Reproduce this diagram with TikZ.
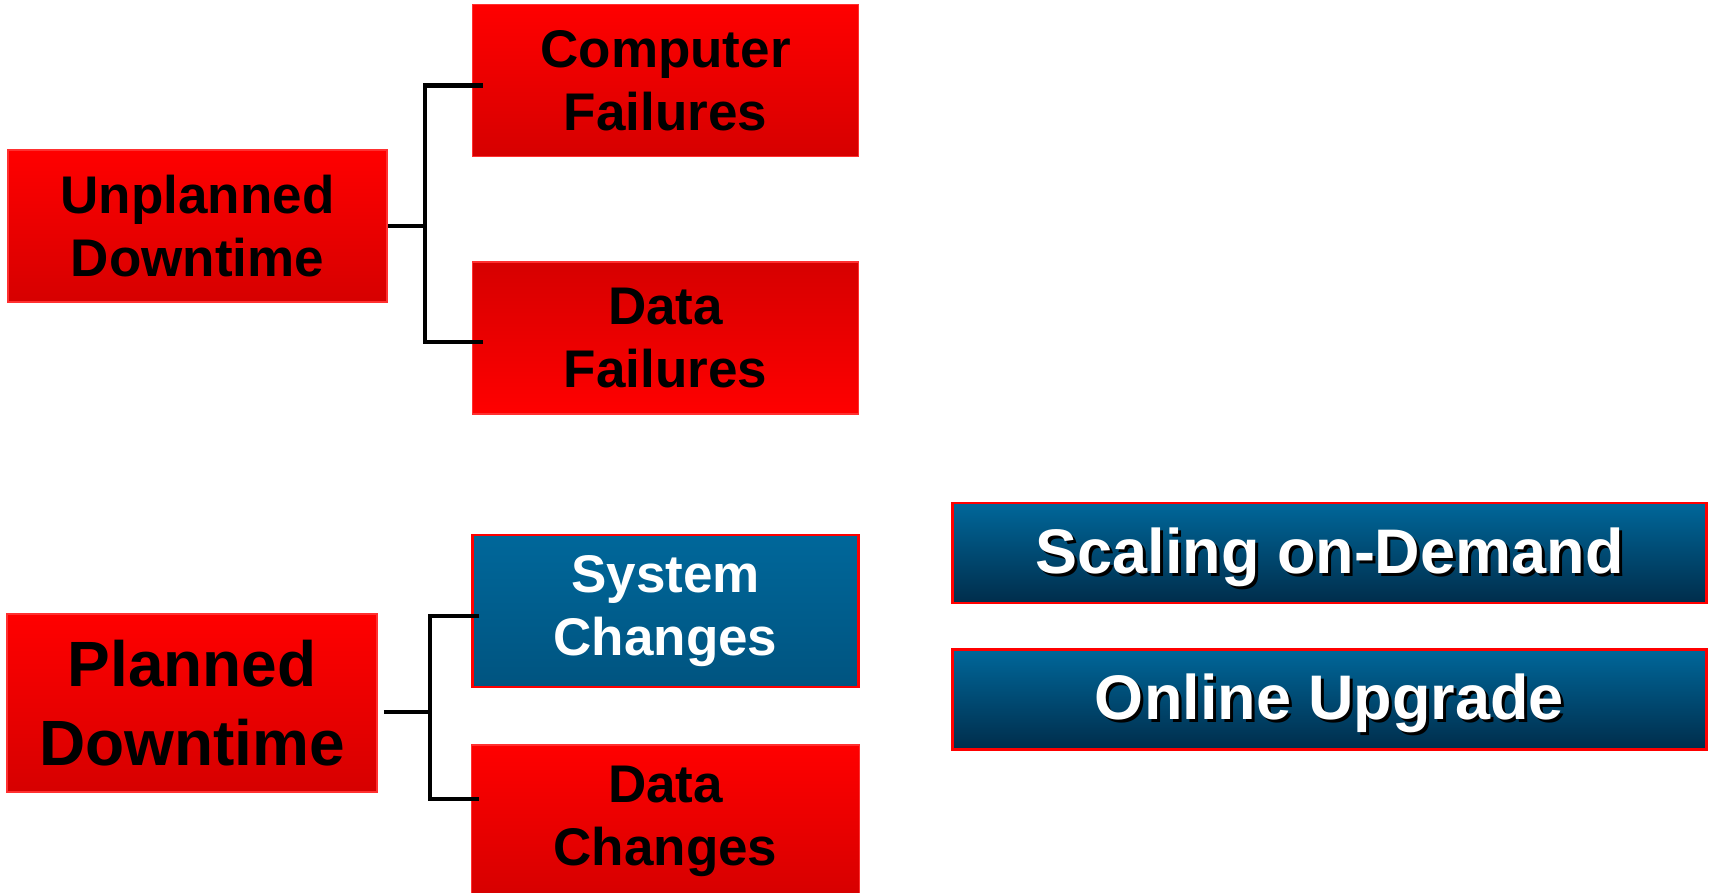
\documentclass[tikz,border=0pt]{standalone}
\usepackage{fontspec}
\setmainfont{Liberation Sans}
\usetikzlibrary{positioning}
\definecolor{redtop}{RGB}{255,0,0}
\definecolor{redbot}{RGB}{214,0,0}
\definecolor{redrim}{RGB}{255,48,48}
\definecolor{bluetop}{RGB}{0,103,154}
\definecolor{bluemid}{RGB}{0,84,128}
\definecolor{bluebot}{RGB}{0,45,75}
\newcommand\shadowed[1]{\rlap{\kern3pt\raisebox{-3pt}{\color{black}#1}}#1}

\begin{document}
\begin{tikzpicture}[x=1pt, y=1pt,
    rbox/.style = {draw=redrim, line width=1.5pt, top color=redtop, bottom color=redbot, minimum width=386pt, minimum height=152pt, inner sep=0pt, align=center, font=\bfseries\fontsize{53}{63}\selectfont},
    bbox/.style = {rbox, draw=red, line width=2.5pt, top color=bluetop, bottom color=bluemid, text=white},
    wide/.style = {bbox, bottom color=bluebot, minimum width=754pt, minimum height=100pt, text height=56pt, text depth=16pt, font=\bfseries\fontsize{63}{75}\selectfont},
    link/.style = {draw, line width=4.2pt}
]
\useasboundingbox (0,0) rectangle (1710,-892);
\node (ud) [rbox, minimum width=379pt] at (197.5,-226) {Unplanned\\Downtime};
\node (cf) [rbox, above right=-8pt and 84pt of ud] {Computer\\Failures};
\node (df) [rbox, top color=redbot, bottom color=redtop, below=104pt of cf] {Data\\Failures};
\node (sc) [bbox, below=119pt of df] {System\\Changes};
\node (dc) [rbox, minimum width=388pt, below=56pt of sc] {Data\\Changes};
\node (pd) [rbox, minimum width=370pt, minimum height=178pt, font=\bfseries\fontsize{64}{79}\selectfont] at (192,-703) {Planned\\Downtime};
\node (sd) [wide] at (1329.5,-553) {\shadowed{Scaling on-Demand}};
\node (ou) [wide, below=44pt of sd] {\shadowed{Online Upgrade}};

\draw[link] (ud.east) -- ++(37,0) coordinate (uj);
\draw[link] ([shift={(11,-5)}]cf.west) -| (uj) |- ([shift={(11,-4)}]df.west);
\draw[link] ([shift={(6,-9)}]pd.east) -- ++(46,0) coordinate (pj);
\draw[link] ([shift={(8,-5)}]sc.west) -| (pj) |- ([shift={(8,22)}]dc.west);
\end{tikzpicture}
\end{document}
